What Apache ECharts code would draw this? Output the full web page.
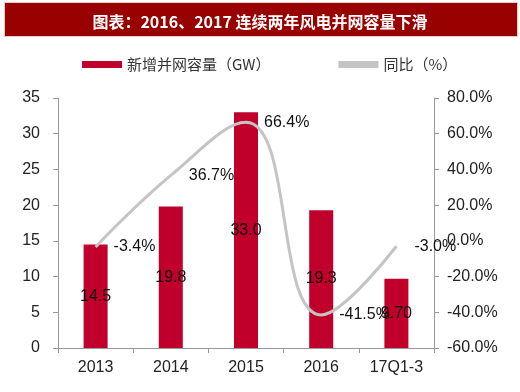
<!DOCTYPE html>
<html><head><meta charset="utf-8">
<script src="https://cdn.jsdelivr.net/npm/echarts@6/dist/echarts.min.js"></script>
<style>html,body{margin:0;padding:0;background:#fff}#c{width:520px;height:392px}</style>
</head><body><div id="c"></div>
<script>
const categories = ['2013','2014','2015','2016','17Q1-3'];
const capacity = [14.5, 19.8, 33.0, 19.3, 9.70];
const capacityLabels = ['14.5','19.8','33.0','19.3','9.70'];
const yoy = [-3.4, 36.7, 66.4, -41.5, -3.0];
const titleText = '图表：2016、2017 连续两年风电并网容量下滑';
const seriesNames = ['新增并网容量（GW）', '同比（%）'];

const chart = echarts.init(document.getElementById('c'));
const numFont = 'Liberation Sans, Arial, sans-serif';
const lineColor = '#c4c4c4';
chart.setOption({
  animation: false,
  backgroundColor: '#fff',
  graphic: [{
    type: 'rect', left: 4, top: 2,
    shape: {width: 513, height: 34},
    style: {fill: '#990000', stroke: '#e8caca', lineWidth: 1}
  }],
  title: {
    text: titleText, left: 'center', top: 9,
    textStyle: {color: '#fff', fontSize: 16, fontWeight: 'bold', fontFamily: 'Noto Sans CJK SC'}
  },
  legend: {
    top: 52, left: 77, itemGap: 68, itemWidth: 40, itemHeight: 7,
    textStyle: {fontSize: 15, color: '#333', fontFamily: 'Noto Sans CJK SC'},
    data: [
      {name: seriesNames[0], icon: 'rect'},
      {name: seriesNames[1], icon: 'rect', itemStyle: {color: lineColor, opacity: 1}}
    ]
  },
  grid: {left: 58, right: 86, top: 98, bottom: 44},
  xAxis: {
    type: 'category', data: categories,
    axisLine: {lineStyle: {color: '#999'}},
    axisTick: {show: true, length: 5, lineStyle: {color: '#999'}},
    axisLabel: {color: '#222', fontSize: 16, fontFamily: numFont, margin: 12}
  },
  yAxis: [{
    type: 'value', min: 0, max: 35, interval: 5,
    splitLine: {show: false},
    axisLine: {show: true, lineStyle: {color: '#999'}},
    axisTick: {show: true, length: 5, lineStyle: {color: '#999'}},
    axisLabel: {color: '#222', fontSize: 16, fontFamily: numFont, margin: 18}
  }, {
    type: 'value', min: -60, max: 80, interval: 20, position: 'right',
    splitLine: {show: false},
    axisLine: {show: true, lineStyle: {color: '#999'}},
    axisTick: {show: true, length: 5, lineStyle: {color: '#999'}},
    axisLabel: {color: '#222', fontSize: 16, fontFamily: numFont, margin: 13,
      formatter: v => v.toFixed(1) + '%'}
  }],
  series: [{
    name: seriesNames[0], type: 'bar', data: capacity, barWidth: 24,
    itemStyle: {color: '#c0002b'},
    label: {show: true, position: 'inside', color: '#111', fontSize: 16, fontFamily: numFont,
      formatter: p => capacityLabels[p.dataIndex]}
  }, {
    name: seriesNames[1], type: 'line', yAxisIndex: 1, data: yoy, smooth: 0.45,
    symbol: 'circle', symbolSize: 2, showSymbol: true,
    lineStyle: {color: lineColor, width: 3}, itemStyle: {color: 'rgba(0,0,0,0)', borderWidth: 0},
    label: {show: true, position: 'right', distance: 17, color: '#111', fontSize: 16, fontFamily: numFont,
      formatter: p => p.value.toFixed(1) + '%'},
    labelLayout: {hideOverlap: false}
  }]
});
</script></body></html>
